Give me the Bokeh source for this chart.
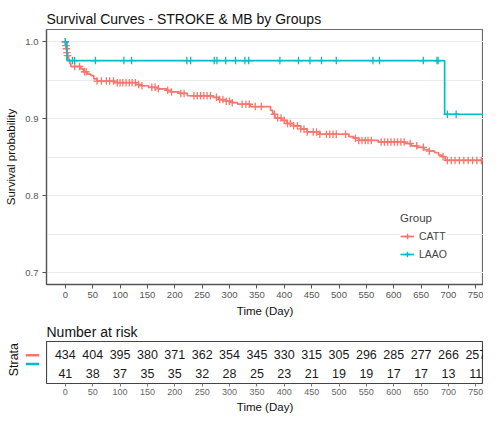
import math
import numpy as np
from bokeh.plotting import figure
from bokeh.models import Range1d, FixedTicker, Legend, LegendItem, PrintfTickFormatter
from bokeh.layouts import column, row
from bokeh.core.properties import value
from bokeh.embed import file_html
from bokeh.resources import INLINE

# ---------------- data ----------------
CATT_TIME = [0, 1, 2, 3, 4, 6, 8, 10, 28, 33,
             40, 47, 52, 58, 90, 129, 140, 152, 170, 185,
             193, 208, 223, 270, 280, 294, 305, 315, 338, 375,
             379, 383, 395, 405, 417, 430, 442, 465, 518, 527,
             536, 572, 620, 632, 643, 655, 665, 675, 682, 688,
             694, 790]
CATT_SURV = [1.000, 0.995, 0.991, 0.986, 0.982, 0.977, 0.972, 0.968, 0.965, 0.961,
             0.958, 0.956, 0.952, 0.949, 0.947, 0.9445, 0.943, 0.941, 0.939, 0.937,
             0.935, 0.933, 0.930, 0.928, 0.925, 0.923, 0.921, 0.919, 0.916, 0.911,
             0.906, 0.901, 0.898, 0.894, 0.891, 0.887, 0.883, 0.880, 0.877, 0.875,
             0.872, 0.870, 0.868, 0.865, 0.863, 0.860, 0.858, 0.856, 0.853, 0.851,
             0.846, 0.846]
CATT_CENSOR = [0, 1, 2, 3, 4, 17, 26, 35, 38, 58, 66, 75, 81, 88, 95, 100, 105, 111,
               117, 122, 128, 134, 140, 158, 164, 170, 187, 194, 211, 217, 235, 241,
               247, 253, 259, 265, 276, 282, 288, 294, 300, 305, 323, 330, 336, 347,
               358, 382, 388, 394, 400, 406, 411, 417, 424, 430, 436, 442, 453, 459,
               465, 477, 483, 489, 495, 512, 530, 536, 542, 548, 553, 559, 577, 583,
               589, 595, 601, 607, 613, 619, 630, 642, 654, 665, 690, 698, 705, 712,
               720, 728, 736, 744, 752, 760]

LAAO_TIME = [0, 3, 693, 790]
LAAO_SURV = [1.000, 0.9756, 0.906, 0.906]
LAAO_CENSOR = [0, 13, 17, 55, 107, 121, 222, 229, 272, 277, 293, 311, 328, 335, 392,
               426, 447, 468, 495, 562, 574, 654, 679, 681, 698, 714]

RISK_TIMES = [0, 50, 100, 150, 200, 250, 300, 350, 400, 450, 500, 550, 600, 650, 700, 750]
CATT_RISK = [434, 404, 395, 380, 371, 362, 354, 345, 330, 315, 305, 296, 285, 277, 266, 257]
LAAO_RISK = [41, 38, 37, 35, 35, 32, 28, 25, 23, 21, 19, 19, 17, 17, 13, 11]

GROUPS = ["CATT", "LAAO"]
Y_TICKS = [0.7, 0.8, 0.9, 1.0]
Y_GRID = [0.7, 0.75, 0.8, 0.85, 0.9, 0.95, 1.0]

# ---------------- style ----------------
RED = "#F8766D"
TEAL = "#00BFC4"
FONT = "Liberation Sans"
XR = Range1d(-34.4, 764.0)
LEFT = 46


def surv_at(times, surv, pts):
    t = np.asarray(times)
    s = np.asarray(surv)
    idx = np.searchsorted(t, np.asarray(pts), side="right") - 1
    return s[idx].tolist()


p = figure(width=483, height=320, x_range=XR, y_range=Range1d(0.685, 1.016),
           output_backend="svg", toolbar_location=None,
           min_border_left=LEFT, min_border_right=0, min_border_top=29, min_border_bottom=36,
           title="Survival Curves - STROKE & MB by Groups")
p.title.text_font = FONT
p.title.text_font_size = "14px"
p.title.text_font_style = "normal"
p.title.text_color = "#111111"
p.title.standoff = 6
p.outline_line_color = "#6a6a6a"
p.outline_line_width = 1.2

p.xgrid.visible = False
p.ygrid.ticker = FixedTicker(ticks=Y_GRID)
p.ygrid.grid_line_color = "#EBEBEB"
p.ygrid.grid_line_width = 1

for ax in (p.xaxis, p.yaxis):
    ax.axis_line_color = "#555555"
    ax.axis_line_width = 1.3
    ax.major_tick_line_color = "#555555"
    ax.major_tick_out = 4
    ax.major_tick_in = 0
    ax.minor_tick_line_color = None
    ax.major_label_text_font = FONT
    ax.major_label_text_font_size = "9.5px"
    ax.major_label_text_color = "#555555"
    ax.axis_label_text_font = FONT
    ax.axis_label_text_font_size = "11.5px"
    ax.axis_label_text_font_style = "normal"
    ax.axis_label_text_color = "#111111"
p.xaxis.ticker = FixedTicker(ticks=RISK_TIMES)
p.yaxis.ticker = FixedTicker(ticks=Y_TICKS)
p.yaxis.formatter = PrintfTickFormatter(format="%.1f")
p.xaxis.axis_label = "Time (Day)"
p.yaxis.axis_label = "Survival probability"
p.xaxis.major_label_standoff = 3
p.xaxis.axis_label_standoff = 4
p.yaxis.major_label_standoff = 4
p.yaxis.axis_label_standoff = 5

r_c = p.step(CATT_TIME, CATT_SURV, mode="after", line_color=RED, line_width=1.7)
s_c = p.scatter(CATT_CENSOR, surv_at(CATT_TIME, CATT_SURV, CATT_CENSOR), marker="cross",
                size=7.5, line_color=RED, line_width=1.3)
r_l = p.step(LAAO_TIME, LAAO_SURV, mode="after", line_color=TEAL, line_width=1.7)
s_l = p.scatter(LAAO_CENSOR, surv_at(LAAO_TIME, LAAO_SURV, LAAO_CENSOR), marker="cross",
                size=7.5, line_color=TEAL, line_width=1.3)

legend = Legend(items=[LegendItem(label=GROUPS[0], renderers=[r_c, s_c]),
                       LegendItem(label=GROUPS[1], renderers=[r_l, s_l])],
                title="Group", location=(354, 21))
legend.title_text_font = FONT
legend.title_text_font_size = "11.5px"
legend.title_text_font_style = "normal"
legend.title_standoff = 3
legend.label_text_font = FONT
legend.label_text_font_size = "10.5px"
legend.label_standoff = 5
legend.label_height = 18
legend.glyph_height = 14
legend.glyph_width = 14
legend.spacing = 0
legend.padding = 4
legend.border_line_color = None
legend.background_fill_color = "white"
legend.background_fill_alpha = 1.0
p.add_layout(legend)

# ---------------- risk table ----------------
ROW_PX = 20.2
RY0 = 1 - 10.6 / ROW_PX
q = figure(width=483 - LEFT, height=98, x_range=XR, y_range=Range1d(RY0, RY0 + 44 / ROW_PX),
           output_backend="svg", toolbar_location=None, title="Number at risk",
           min_border_left=0, min_border_right=0, min_border_top=19, min_border_bottom=35)
q.title.text_font = FONT
q.title.text_font_size = "14px"
q.title.text_font_style = "normal"
q.title.text_color = "#111111"
q.title.standoff = 3
q.yaxis.visible = False
q.xgrid.visible = False
q.ygrid.visible = False
q.outline_line_color = "#444444"
q.outline_line_width = 1.2
q.xaxis.ticker = FixedTicker(ticks=RISK_TIMES)
q.xaxis.axis_line_color = None
q.xaxis.major_tick_line_color = "#777777"
q.xaxis.major_tick_out = 3
q.xaxis.major_tick_in = 0
q.xaxis.minor_tick_line_color = None
q.xaxis.major_label_text_font = FONT
q.xaxis.major_label_text_font_size = "9px"
q.xaxis.major_label_text_color = "#666666"
q.xaxis.major_label_standoff = 2
q.xaxis.axis_label = "Time (Day)"
q.xaxis.axis_label_text_font = FONT
q.xaxis.axis_label_text_font_size = "11.5px"
q.xaxis.axis_label_text_font_style = "normal"
q.xaxis.axis_label_text_color = "#111111"
q.xaxis.axis_label_standoff = 3

q.text(x=RISK_TIMES, y=[2] * len(RISK_TIMES), text=[str(v) for v in CATT_RISK],
       text_align="center", text_baseline="middle", text_font=value(FONT),
       text_font_size="12.5px", text_color="#1a1a1a")
q.text(x=RISK_TIMES, y=[1] * len(RISK_TIMES), text=[str(v) for v in LAAO_RISK],
       text_align="center", text_baseline="middle", text_font=value(FONT),
       text_font_size="12.5px", text_color="#1a1a1a")

# strata keys panel (left of the risk table)
KY0 = 1 - 45.6 / ROW_PX
k = figure(width=LEFT, height=98, x_range=Range1d(0, LEFT),
           y_range=Range1d(KY0, KY0 + 98 / ROW_PX),
           output_backend="svg", toolbar_location=None,
           min_border_left=0, min_border_right=0, min_border_top=0, min_border_bottom=0)
k.xaxis.visible = False
k.yaxis.visible = False
k.xgrid.visible = False
k.ygrid.visible = False
k.outline_line_color = None
k.rect(x=[32, 32], y=[2, 1], width=13.5, height=5.8 / ROW_PX,
       fill_color=[RED, TEAL], line_color=None)
k.text(x=[13], y=[1.5], text=["Strata"], angle=math.pi / 2, text_align="center",
       text_baseline="middle", text_font=value(FONT), text_font_size="12.5px",
       text_color="#111111")

layout = column(p, row(k, q, spacing=0), spacing=0)
open("out.html", "w").write(file_html(layout, INLINE))
